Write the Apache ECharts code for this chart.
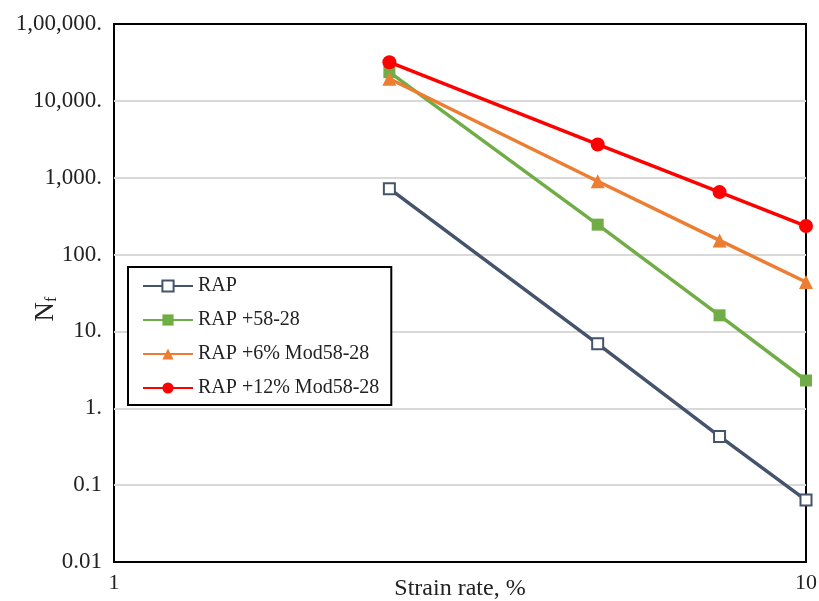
<!DOCTYPE html>
<html>
<head>
<meta charset="utf-8">
<script src="https://cdn.jsdelivr.net/npm/echarts@6/dist/echarts.min.js"></script>
<style>html,body{margin:0;padding:0;background:#fff}#c{width:819px;height:601px}</style>
</head>
<body>
<div id="c"></div>
<script>
const strainRates = [2.5, 5, 7.5, 10];
const seriesNames = ['RAP', 'RAP +58-28', 'RAP +6% Mod58-28', 'RAP +12% Mod58-28'];
const rapValues = [720, 6.9, 0.43, 0.064];
const rap5828Values = [23600, 245, 16.2, 2.3];
const rap6Values = [19400, 900, 153, 44];
const rap12Values = [31800, 2710, 650, 235];
const yTickValues = [0.01, 0.1, 1, 10, 100, 1000, 10000, 100000];
const yTickLabels = ['0.01', '0.1', '1.', '10.', '100.', '1,000.', '10,000.', '1,00,000.'];
const xTickValues = [1, 10];
const xTickLabels = ['1', '10'];

const font = 'Liberation Serif, Times New Roman, serif';
function lbl(v, vals, labels) {
  for (let i = 0; i < vals.length; i++) {
    if (Math.abs(Math.log10(v) - Math.log10(vals[i])) < 1e-6) return labels[i];
  }
  return '';
}
function pairs(vals) { return strainRates.map((x, i) => [x, vals[i]]); }

const chart = echarts.init(document.getElementById('c'), null, {renderer: 'canvas'});
const styles = [
  {color: '#44546a', symbol: 'rect', size: 11, fill: '#ffffff'},
  {color: '#70ad47', symbol: 'rect', size: 12, fill: '#70ad47'},
  {color: '#ed7d31', symbol: 'triangle', size: 14, fill: '#ed7d31'},
  {color: '#ff0000', symbol: 'circle', size: 14, fill: '#ff0000'}
];
const data = [rapValues, rap5828Values, rap6Values, rap12Values];

chart.setOption({
  animation: false,
  backgroundColor: '#ffffff',
  grid: {left: 114, right: 13, top: 24, bottom: 39, outerBoundsMode: 'none', containLabel: false,
    show: true, borderColor: '#000', borderWidth: 2, backgroundColor: 'transparent'},
  legend: {
    orient: 'vertical', left: 128, top: 267,
    padding: [9, 12, 7, 14], itemGap: 14, itemWidth: 50, itemHeight: 14,
    borderColor: '#000', borderWidth: 2, backgroundColor: '#fff',
    textStyle: {fontFamily: font, fontSize: 20, color: '#222'},
    data: seriesNames
  },
  xAxis: {
    type: 'log', logBase: 10, min: 1, max: 10,
    name: 'Strain rate, %', nameLocation: 'middle', nameGap: 15, nameMoveOverlap: false,
    nameTextStyle: {fontFamily: font, fontSize: 24, color: '#222'},
    axisLine: {show: false}, axisTick: {show: false}, splitLine: {show: false},
    axisLabel: {fontFamily: font, fontSize: 22, color: '#222', margin: 10, showMinLabel: true, showMaxLabel: true,
      formatter: v => lbl(v, xTickValues, xTickLabels)}
  },
  yAxis: {
    type: 'log', logBase: 10, min: 0.01, max: 100000,
    name: '{n|N}{s|f}', nameLocation: 'middle', nameGap: 54, nameRotate: 90, nameMoveOverlap: false,
    nameTextStyle: {padding: [0, 32, 0, 0], rich: {n: {fontFamily: font, fontSize: 27, color: '#222'}, s: {fontFamily: font, fontSize: 16, color: '#222', verticalAlign: 'bottom', padding: [12, 0, 0, 0]}}},
    axisLine: {show: false}, axisTick: {show: false},
    splitLine: {show: true, showMinLine: false, showMaxLine: false, lineStyle: {color: '#d9d9d9', width: 2}},
    axisLabel: {fontFamily: font, fontSize: 23, color: '#222', margin: 12, showMinLabel: true, showMaxLabel: true,
      formatter: v => lbl(v, yTickValues, yTickLabels)}
  },
  series: seriesNames.map((name, i) => ({
    name: name, type: 'line', data: pairs(data[i]),
    symbol: styles[i].symbol, symbolSize: styles[i].size, showAllSymbol: true,
    lineStyle: {color: styles[i].color, width: 3.5},
    itemStyle: {color: styles[i].fill, borderColor: styles[i].color, borderWidth: i === 0 ? 2 : 0},
    emphasis: {disabled: true}, z: 2 + i
  }))
});
</script>
</body>
</html>
